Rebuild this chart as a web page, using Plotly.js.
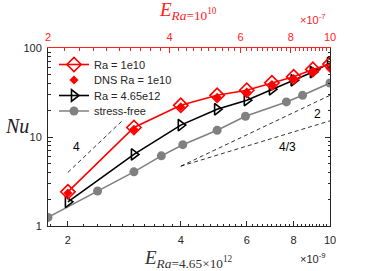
<!DOCTYPE html>
<html><head><meta charset="utf-8">
<script src="https://cdn.plot.ly/plotly-3.0.1.min.js"></script>
<style>html,body{margin:0;padding:0;background:#fff}#c{width:366px;height:271px}</style>
</head><body><div id="c"></div>
<script>
// E in units of 1e-9 (bottom axis, Ra = 4.65e12); top axis E in units of 1e-7 (Ra = 1e10)
const E_ra1e10 = [2, 3, 4, 5, 6, 7, 8, 9, 10];
const Nu_ra1e10 = [2.42, 12.8, 22.7, 29.4, 33.5, 40.6, 47.4, 57.5, 66];
const E_dns = [2, 3, 4, 5, 6, 7, 8, 9, 10];
const Nu_dns = [2.35, 12.2, 21.8, 28.0, 32.0, 38.8, 45.5, 55.0, 59.0];
const E_ra465e12 = [2, 3, 4, 5, 6, 7, 8, 9, 10];
const Nu_ra465e12 = [1.87, 6.37, 13.6, 20.5, 25.9, 34.4, 43.3, 53.7, 68];
const E_sf = [1.77, 2.4, 3.0, 3.55, 4.05, 5.0, 5.95, 7.65, 8.45, 10];
const Nu_sf = [1.25, 2.47, 4.06, 6.14, 8.2, 11.9, 17.1, 24.8, 29.4, 40.4];
const slope4_E = [2, 2.8], slope4_Nu = [4, 15.4];
const slope2_E = [4, 10], slope2_Nu = [4.7, 29.4];
const slope43_E = [4, 10], slope43_Nu = [4.7, 15.2];
const xTicks = [2, 4, 6, 8, 10];
const xTickText = ['2', '4', '6', '8', '10'];
const yTicks = [1, 10, 100];
const yTickText = ['1', '10', '100'];

const minorX = []; for (let v = 1.8; v < 10.01; v += 0.2) minorX.push(+v.toFixed(1));
const minorY = [2,3,4,5,6,7,8,9,20,30,40,50,60,70,80,90];
const AX = '#262626';
const RED = '#ff2020';
const dashLine = {color: '#000', width: 0.8, dash: '4px,3px'};

const traces = [
  {x: slope4_E, y: slope4_Nu, mode: 'lines', line: dashLine, showlegend: false, hoverinfo: 'skip'},
  {x: slope2_E, y: slope2_Nu, mode: 'lines', line: dashLine, showlegend: false, hoverinfo: 'skip'},
  {x: slope43_E, y: slope43_Nu, mode: 'lines', line: dashLine, showlegend: false, hoverinfo: 'skip'},
  {x: E_sf, y: Nu_sf, mode: 'lines+markers', name: 'stress-free', legend: 'legend4',
   line: {color: '#808080', width: 1.6}, marker: {symbol: 'circle', size: 9, color: '#808080'}},
  {x: E_ra465e12, y: Nu_ra465e12, mode: 'lines+markers', name: 'Ra = 4.65e12', legend: 'legend3',
   line: {color: '#000', width: 1.6}, marker: {symbol: 'triangle-right-open', size: 10, color: '#000', line: {width: 1.6}}},
  {x: E_ra1e10, y: Nu_ra1e10, mode: 'lines+markers', name: 'Ra = 1e10', legend: 'legend',
   line: {color: '#ff0000', width: 1.6}, marker: {symbol: 'diamond-open', size: 11, color: '#ff0000', line: {width: 1.6}}},
  {x: E_dns, y: Nu_dns, mode: 'markers', name: 'DNS Ra = 1e10', legend: 'legend2',
   marker: {symbol: 'diamond', size: 7, color: '#ff0000'}},
  {x: [2, 10], y: [1, 1], xaxis: 'x2', mode: 'markers', marker: {opacity: 0}, showlegend: false, hoverinfo: 'skip'}
];

const px = v => (v - 48) / 282, py = v => (226 - v) / 178;
const leg = yc => ({x: px(54), y: py(yc), xanchor: 'left', yanchor: 'middle', bgcolor: 'rgba(0,0,0,0)',
                    font: {size: 11, color: AX}, itemwidth: 30});
const ann = (text, x, y, font) => ({text, x: px(x), y: py(y), xref: 'paper', yref: 'paper',
                    xanchor: 'center', yanchor: 'middle', showarrow: false, font});
const serif = 'Liberation Serif, DejaVu Serif, serif';
const layout = {
  width: 366, height: 271,
  margin: {l: 48, r: 36, t: 48, b: 45},
  paper_bgcolor: '#fff', plot_bgcolor: '#fff',
  font: {family: 'Liberation Sans, Arial, sans-serif', size: 11, color: AX},
  showlegend: true,
  legend: leg(64.5), legend2: leg(80), legend3: leg(95.5), legend4: leg(111),
  xaxis: {type: 'log', range: [Math.log10(1.77), 1], tickmode: 'array', tickvals: xTicks, ticktext: xTickText,
          ticks: 'inside', ticklen: 5, tickcolor: AX, showline: true, linecolor: AX, linewidth: 1,
          showgrid: false, zeroline: false, tickfont: {size: 11, color: AX}, ticklabelstandoff: 4,
          minor: {tickmode: 'array', tickvals: minorX, ticks: 'inside', ticklen: 2.5, tickcolor: AX, showgrid: false}},
  xaxis2: {type: 'log', overlaying: 'x', side: 'top', range: [Math.log10(2), 1], tickmode: 'array',
           tickvals: xTicks, ticktext: xTickText, ticks: 'inside', ticklen: 5, tickcolor: RED,
           showline: true, linecolor: RED, linewidth: 1, showgrid: false, zeroline: false,
           tickfont: {size: 11, color: RED}, ticklabelstandoff: 2,
           minor: {tickmode: 'array', tickvals: minorX.filter(v => v >= 2), ticks: 'inside', ticklen: 2.5, tickcolor: RED, showgrid: false}},
  yaxis: {type: 'log', range: [0, 2], tickmode: 'array', tickvals: yTicks, ticktext: yTickText,
          ticks: 'inside', ticklen: 5, tickcolor: AX, showline: true, linecolor: AX, linewidth: 1, mirror: 'ticks',
          showgrid: false, zeroline: false, tickfont: {size: 11, color: AX}, ticklabelstandoff: 3,
          minor: {tickmode: 'array', tickvals: minorY, ticks: 'inside', ticklen: 2.5, tickcolor: AX, showgrid: false}},
  annotations: [
    ann('4', 76.7, 147, {size: 12, color: '#000'}),
    ann('2', 317.7, 114, {size: 12, color: '#000'}),
    ann('4/3', 287.3, 146.7, {size: 12, color: '#000'}),
    ann('×10<sup>-9</sup>', 313, 258, {size: 11, color: AX}),
    ann('×10<sup>-7</sup>', 313, 19, {size: 11, color: RED}),
    ann('<i>E</i><sub><i>Ra</i>=4.65×10<sup>12</sup></sub>', 188, 259, {family: serif, size: 19, color: '#333'}),
    ann('<i>E</i><sub><i>Ra</i>=10<sup>10</sup></sub>', 188, 11, {family: serif, size: 19, color: RED}),
    ann('<i>Nu</i>', 17, 126, {family: serif, size: 20, color: '#222'})
  ]
};
Plotly.newPlot('c', traces, layout, {displayModeBar: false, staticPlot: true});
</script></body></html>
